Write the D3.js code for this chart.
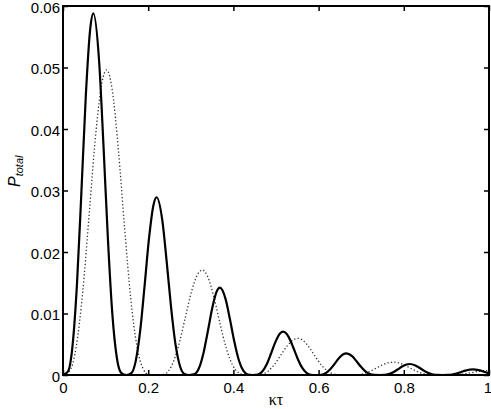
<!DOCTYPE html>
<html>
<head>
<meta charset="utf-8">
<script src="https://cdn.jsdelivr.net/npm/d3@7"></script>
<style>
  html, body { margin: 0; padding: 0; background: #fff; }
  svg { display: block; }
</style>
</head>
<body>
<script>
// ---- data ----
const solidKT = [
  0, 0.0119, 0.0223, 0.0327, 0.0431, 0.0535, 0.0639, 0.0713, 0.0847, 0.0950, 0.1054, 0.1158, 0.1262, 0.1366,
  0.1485, 0.1604, 0.1708, 0.1812, 0.1916, 0.2020, 0.2124, 0.2198, 0.2332, 0.2435, 0.2539, 0.2643, 0.2747, 0.2851,
  0.2970, 0.3089, 0.3193, 0.3297, 0.3401, 0.3505, 0.3609, 0.3683, 0.3817, 0.3920, 0.4024, 0.4128, 0.4232, 0.4336,
  0.4455, 0.4574, 0.4678, 0.4782, 0.4886, 0.4990, 0.5094, 0.5168, 0.5302, 0.5405, 0.5509, 0.5613, 0.5717, 0.5821,
  0.5940, 0.6059, 0.6163, 0.6267, 0.6371, 0.6475, 0.6579, 0.6653, 0.6787, 0.6890, 0.6994, 0.7098, 0.7202, 0.7306,
  0.7425, 0.7544, 0.7648, 0.7752, 0.7856, 0.7960, 0.8064, 0.8138, 0.8272, 0.8375, 0.8479, 0.8583, 0.8687, 0.8791,
  0.8910, 0.9029, 0.9133, 0.9237, 0.9341, 0.9445, 0.9549, 0.9623, 0.9757, 0.9860, 0.9964, 1.0
];
const solidP = [
  0, 0.0006, 0.00469, 0.01465, 0.02961, 0.04533, 0.05628, 0.0588, 0.05109, 0.03735, 0.02215, 0.00994, 0.00289, 0.00034,
  0, 0.000295, 0.0023, 0.0072, 0.01455, 0.02228, 0.02766, 0.0289, 0.02511, 0.01836, 0.01089, 0.00489, 0.00142, 0.000165,
  0, 0.000145, 0.00113, 0.00354, 0.00715, 0.01095, 0.01359, 0.0142, 0.01234, 0.00902, 0.00535, 0.0024, 0.000699, 0.000081,
  0, 0.000072, 0.000561, 0.00175, 0.00354, 0.00543, 0.00674, 0.00704, 0.00612, 0.00447, 0.00265, 0.00119, 0.000346, 0.00004,
  0, 0.000036, 0.00028, 0.000877, 0.00177, 0.00271, 0.00337, 0.00352, 0.00306, 0.00224, 0.00133, 0.000595, 0.000173, 0.00002,
  0, 0.000018, 0.000143, 0.000446, 0.000901, 0.00138, 0.00171, 0.00179, 0.00156, 0.00114, 0.000674, 0.000303, 0.000088, 0.00001,
  0, 0.0000094, 0.0000733, 0.000229, 0.000463, 0.000709, 0.000881, 0.00092, 0.000799, 0.000584, 0.000347, 0.00028
];
const dottedKT = [
  0, 0.0150, 0.0307, 0.0464, 0.0621, 0.0778, 0.0913, 0.1025, 0.1151, 0.1297, 0.1443, 0.1589, 0.1735, 0.1881, 0.2006,
  0.2215, 0.2395, 0.2552, 0.2709, 0.2866, 0.3023, 0.3158, 0.3270, 0.3396, 0.3542, 0.3688, 0.3834, 0.3980, 0.4126, 0.4251,
  0.4460, 0.4640, 0.4797, 0.4954, 0.5111, 0.5268, 0.5403, 0.5515, 0.5641, 0.5787, 0.5933, 0.6079, 0.6225, 0.6371, 0.6496,
  0.6705, 0.6885, 0.7042, 0.7199, 0.7356, 0.7513, 0.7648, 0.7760, 0.7886, 0.8032, 0.8178, 0.8324, 0.8470, 0.8616, 0.8741,
  0.8950, 0.9130, 0.9287, 0.9444, 0.9601, 0.9758, 0.9893, 1.0
];
const dottedP = [
  0, 0.000583, 0.00445, 0.01356, 0.02671, 0.03987, 0.0475, 0.0496, 0.04655, 0.03685, 0.02414, 0.01253, 0.00469, 0.00099, 0.000087,
  0, 0.000201, 0.00153, 0.00467, 0.00919, 0.01372, 0.01635, 0.01707, 0.01602, 0.01268, 0.00831, 0.00431, 0.00161, 0.00034, 0.00003,
  0, 0.00007, 0.000535, 0.00163, 0.00321, 0.00479, 0.00571, 0.00596, 0.00559, 0.00443, 0.0029, 0.00151, 0.000563, 0.000119, 0.00001,
  0, 0.0000247, 0.000188, 0.000574, 0.00113, 0.00169, 0.00201, 0.0021, 0.00197, 0.00156, 0.00102, 0.00053, 0.000198, 0.000042, 0.0000037,
  0, 0.0000086, 0.0000655, 0.0002, 0.000393, 0.000587, 0.000699, 0.00073
];
const xTicks = [0, 0.2, 0.4, 0.6, 0.8, 1];
const xTickLabels = ["0", "0.2", "0.4", "0.6", "0.8", "1"];
const yTicks = [0, 0.01, 0.02, 0.03, 0.04, 0.05, 0.06];
const yTickLabels = ["0", "0.01", "0.02", "0.03", "0.04", "0.05", "0.06"];
const xLabel = "κτ";
const yLabelMain = "P";
const yLabelSub = "total";

// ---- layout ----
const W = 491, H = 409;
const L = 63, R = 489, T = 6, B = 375;

const svg = d3.select("body").append("svg").attr("width", W).attr("height", H);

const x = d3.scaleLinear().domain([0, 1]).range([L, R]);
const y = d3.scaleLinear().domain([0, 0.06]).range([B, T]);

const font = "'Liberation Sans', Arial, Helvetica, sans-serif";

const line = d3.line().x(d => x(d[0])).y(d => y(d[1])).curve(d3.curveMonotoneX);

svg.append("defs").append("clipPath").attr("id", "clip")
  .append("rect").attr("x", L).attr("y", T - 1).attr("width", R - L).attr("height", B - T + 2);

const plot = svg.append("g").attr("clip-path", "url(#clip)");

plot.append("path")
  .datum(dottedKT.map((k, i) => [k, dottedP[i]]))
  .attr("d", line)
  .attr("fill", "none")
  .attr("stroke", "#333")
  .attr("stroke-width", 1.3)
  .attr("stroke-dasharray", "1.3,2.2");

plot.append("path")
  .datum(solidKT.map((k, i) => [k, solidP[i]]))
  .attr("d", line)
  .attr("fill", "none")
  .attr("stroke", "#000")
  .attr("stroke-width", 2.2)
  .attr("stroke-linejoin", "round");

// axes
function styleAxis(g) {
  g.select(".domain").remove();
  g.selectAll(".tick line").attr("stroke", "#000").attr("stroke-width", 1.5);
  g.selectAll(".tick text").attr("fill", "#000").attr("font-family", font).attr("font-size", 15);
}

const xAxisG = svg.append("g").attr("transform", `translate(0,${B})`)
  .call(d3.axisBottom(x).tickValues(xTicks).tickFormat((d, i) => xTickLabels[i])
    .tickSizeInner(-5).tickSizeOuter(0).tickPadding(7))
  .call(styleAxis);
xAxisG.selectAll(".tick text").filter(d => d === 1).attr("dx", -1.5);

svg.append("g").attr("transform", `translate(0,${T})`)
  .call(d3.axisTop(x).tickValues(xTicks).tickFormat("")
    .tickSizeInner(-5).tickSizeOuter(0))
  .call(styleAxis);

svg.append("g").attr("transform", `translate(${L},0)`)
  .call(d3.axisLeft(y).tickValues(yTicks).tickFormat((d, i) => yTickLabels[i])
    .tickSizeInner(-5).tickSizeOuter(0).tickPadding(3))
  .call(styleAxis)
  .selectAll(".tick text").attr("dy", "0.4em");

svg.append("g").attr("transform", `translate(${R},0)`)
  .call(d3.axisRight(y).tickValues(yTicks).tickFormat("")
    .tickSizeInner(-5).tickSizeOuter(0))
  .call(styleAxis);

// frame
svg.append("rect")
  .attr("x", L).attr("y", T).attr("width", R - L).attr("height", B - T)
  .attr("fill", "none").attr("stroke", "#000").attr("stroke-width", 2);

// axis labels
svg.append("text")
  .attr("x", (L + R) / 2).attr("y", 405)
  .attr("text-anchor", "middle")
  .attr("font-family", "'Liberation Serif', 'Times New Roman', serif")
  .attr("font-size", 16)
  .text(xLabel);

const yl = svg.append("text")
  .attr("transform", "translate(20,187) rotate(-90)")
  .attr("font-family", font)
  .attr("font-style", "italic");
yl.append("tspan").attr("font-size", 16).text(yLabelMain);
yl.append("tspan").attr("font-size", 11).attr("dy", 3).text(yLabelSub);
</script>
</body>
</html>
